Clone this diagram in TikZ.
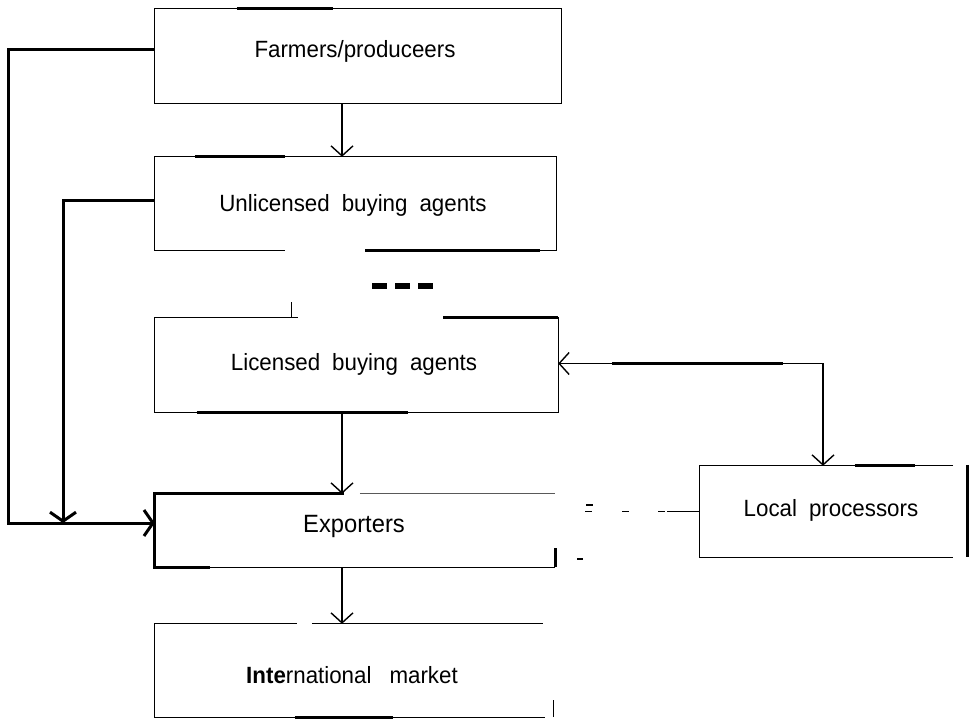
\documentclass[tikz,border=0pt]{standalone}
\usepackage{fontspec}
\setmainfont{Liberation Sans}[FakeStretch=0.95]
\usetikzlibrary{arrows.meta}
\tikzset{
  frame/.style 2 args={draw=none, inner sep=0pt, minimum width=#1pt, minimum height=#2pt},
  lbl/.style={anchor=base, inner sep=0pt, font=\fontsize{23.5pt}{28pt}\selectfont},
  edge/.style={line width=1.3pt, black},
  faint/.style={line width=1pt, black!65},
  heavy/.style={line width=3pt, black},
  link/.style={line width=1.4pt, -{Straight Barb[length=10pt,width=22pt]}},
  heavylink/.style={line width=3pt, -{Straight Barb[length=9pt,width=26pt]}},
  twolink/.style={line width=1.4pt, {Straight Barb[length=10pt,width=22pt]}-{Straight Barb[length=10pt,width=22pt]}}
}
\begin{document}
\begin{tikzpicture}[x=1pt,y=-1pt]
\useasboundingbox[fill=white] (0,0) rectangle (969,719);

% box shapes
\node[frame={406}{94}] (far) at (358,56) {};
\node[frame={401}{93}] (unl) at (355.5,203.5) {};
\node[frame={403}{94}] (lic) at (356.5,365) {};
\node[frame={400}{73}] (exp) at (355,530.5) {};
\node[frame={267}{91}] (loc) at (833.5,511.5) {};
\node[frame={398}{93}] (intl) at (354,670.5) {};

% texts
\node[lbl] (farT) at (355,58) {Farmers/produceers};
\node[lbl] (unlT) at (353,212) {Unlicensed\hspace{12pt}buying\hspace{12pt}agents};
\node[lbl] (licT) at (354,370) {Licensed\hspace{12pt}buying\hspace{12pt}agents};
\node[lbl, font=\fontsize{25pt}{29pt}\selectfont] (expT) at (354,532) {Exporters};
\node[lbl] (locT) at (831,516) {Local\hspace{12pt}processors};
\node[lbl] (intlT) at (352,683) {\textbf{Inte}rnational\hspace{18pt}market};

% Farmers border
\draw[edge] (far.north west) rectangle (far.south east);
\draw[heavy] ([xshift=82pt]far.north west) -- ++(96,0);

% Unlicensed border
\draw[edge] ([xshift=130pt]unl.south west) -- (unl.south west) -- (unl.north west)
  -- (unl.north east) -- (unl.south east) -- ([xshift=-191pt]unl.south east);
\draw[heavy] ([xshift=40pt]unl.north west) -- ++(90,0);
\draw[heavy] ([xshift=-191pt]unl.south east) -- ++(175,0);

% Licensed border
\draw[edge] ([xshift=143pt]lic.north west) -- (lic.north west) -- (lic.south west)
  -- (lic.south east) -- (lic.north east) -- ([xshift=-115pt]lic.north east);
\draw[heavy] ([xshift=-115pt]lic.north east) -- (lic.north east);
\draw[heavy] ([xshift=42pt]lic.south west) -- ++(211,0);
\draw[edge] ([xshift=137pt]lic.north west) -- ++(0,-16);

% dashes between Unlicensed and Licensed
\draw[line width=6.5pt, dash pattern=on 15pt off 8pt] (372,286) -- (435,286);

% Exporters border
\draw[heavy] ([xshift=189pt]exp.north west) -- (exp.north west) -- (exp.south west) -- ([xshift=55pt]exp.south west);
\draw[faint] ([xshift=205pt]exp.north west) -- (exp.north east);
\draw[edge] ([xshift=55pt]exp.south west) -- (exp.south east);
\draw[heavy] (exp.south east) -- ++(0,-19);
\draw[line width=2.5pt] (586,505) -- (593,505);
\draw[line width=2.5pt] (577,559) -- (583,559);

% Local processors border
\draw[edge] ([xshift=-14pt]loc.north east) -- (loc.north west) -- (loc.south west) -- ([xshift=-14pt]loc.south east);
\draw[heavy] ([xshift=155pt]loc.north west) -- ++(60,0);
\draw[heavy] ([yshift=1pt]loc.north east) -- (loc.south east);

% International border
\draw[edge] ([xshift=142pt]intl.north west) -- (intl.north west) -- (intl.south west) -- ([xshift=390pt]intl.south west);
\draw[edge] ([xshift=157pt]intl.north west) -- ([xshift=-10pt]intl.north east);
\draw[heavy] ([xshift=140pt]intl.south west) -- ++(98,0);
\draw[edge] (intl.south east) -- ++(0,-17);

% vertical flow
\coordinate (ax) at (342,0);
\draw[link] (ax |- far.south) -- (ax |- unl.north);
\draw[link] (ax |- lic.south) -- (ax |- exp.north);
\draw[link] (ax |- exp.south) -- (ax |- intl.north);

% left rails
\coordinate (ein) at ([yshift=7.5pt]exp.west);
\coordinate (railA) at (8,0);
\coordinate (railB) at (63,0);
\draw[heavylink] ([yshift=6pt]far.west) -| (railA |- ein) -- (ein);
\draw[heavylink] ([yshift=2.5pt]unl.west) -| (railB |- ein);

% Licensed <-> Local processors
\draw[twolink] ([yshift=1.5pt]lic.east) -| ([xshift=-10.5pt]loc.north);
\draw[heavy] ([xshift=54pt,yshift=1.5pt]lic.east) -- ++(171,0);

% Exporters - - - Local processors
\draw[line width=1.4pt, dash pattern=on 0pt off 30pt on 7pt off 30pt on 7pt off 29pt on 7pt off 2pt on 60pt]
  (exp.east |- loc.west) -- (loc.west);
\end{tikzpicture}
\end{document}
